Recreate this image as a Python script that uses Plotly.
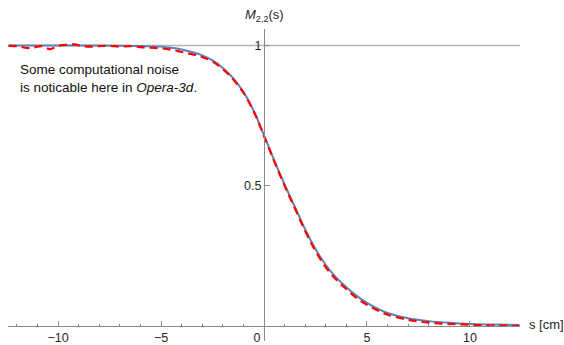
import plotly.graph_objects as go

W, H = 564, 345

# ---- data ----
s_opt = [-12.4, -10, -8, -7, -6, -5, -4.5, -4, -3.5, -3, -2.5, -2, -1.5, -1, -0.5,
         0, 0.5, 1, 1.5, 2, 2.5, 3, 3.5, 4, 4.5, 5, 5.5, 6, 7, 8, 9, 10, 11, 12.4]
m_opt = [1.0, 1.0, 1.0, 0.999, 0.998, 0.996, 0.992, 0.986, 0.977, 0.965, 0.947, 0.92,
         0.884, 0.835, 0.768, 0.68, 0.59, 0.505, 0.425, 0.345, 0.275, 0.218, 0.174,
         0.139, 0.108, 0.083, 0.063, 0.047, 0.028, 0.018, 0.012, 0.008, 0.006, 0.004]

s_opera = [-12.4, -12, -11.5, -11.2, -10.8, -10.4, -10, -9.5, -9.2, -8.8, -8.4, -8,
           -7.5, -7, -6.5, -6, -5.5, -5, -4.5, -4, -3.5, -3, -2.5, -2, -1.5, -1, -0.5,
           0, 0.5, 1, 1.5, 2, 2.5, 3, 3.5, 4, 4.5, 5, 5.5, 6, 7, 8, 9, 10, 11, 12.4]
m_opera = [0.999, 0.998, 0.991, 0.993, 0.998, 0.987, 0.999, 1.003, 1.004, 0.998, 0.996, 0.998,
           0.999, 0.996, 0.998, 0.994, 0.992, 0.99, 0.985, 0.977, 0.969, 0.959, 0.943, 0.916,
           0.88, 0.832, 0.765, 0.678, 0.587, 0.5, 0.42, 0.339, 0.268, 0.21, 0.166,
           0.132, 0.1, 0.076, 0.057, 0.041, 0.023, 0.013, 0.008, 0.005, 0.003, 0.001]

x_tickvals = [-10, -5, 0, 5, 10]
x_ticktext = ["\u221210", "\u22125", "0\u2007\u2007", "5", "10"]
y_tickvals = [0.5, 1]
y_ticktext = ["0.5", "1"]

AXIS = "#8a8a8a"
TXT = "#262626"
FONT = "Liberation Sans, Arial, sans-serif"

fig = go.Figure()
fig.add_trace(go.Scatter(x=s_opt, y=m_opt, mode="lines",
                         line=dict(color="#5E81B5", width=2, shape="spline", smoothing=1),
                         showlegend=False, hoverinfo="skip"))
fig.add_trace(go.Scatter(x=s_opera, y=m_opera, mode="lines",
                         line=dict(color="#FF0000", width=2.2, dash="8px,5px",
                                   shape="spline", smoothing=1),
                         showlegend=False, hoverinfo="skip"))

x_lo, x_hi = -12.43, 12.43
y_lo, y_hi = -0.0528, 1.06

fig.update_layout(
    width=W, height=H, autosize=False,
    margin=dict(l=0, r=0, t=0, b=0, pad=0),
    paper_bgcolor="white", plot_bgcolor="white",
    font=dict(family=FONT, size=12.5, color=TXT),
    xaxis=dict(domain=[8 / W, 520 / W], range=[x_lo, x_hi], anchor="free",
               position=15 / H, showline=True, linecolor=AXIS, linewidth=1,
               showgrid=False, zeroline=False, ticks="inside", ticklen=5,
               tickwidth=1, tickcolor=AXIS, tickvals=x_tickvals, ticktext=x_ticktext,
               tickfont=dict(size=12.5, color=TXT),
               minor=dict(dtick=1, tick0=0, ticks="inside", ticklen=2.5,
                          tickcolor=AXIS, tickwidth=1, showgrid=False)),
    yaxis=dict(domain=[0, (H - 29) / H], range=[y_lo, y_hi], anchor="free",
               position=264 / W, showline=True, linecolor=AXIS, linewidth=1,
               showgrid=False, zeroline=False, ticks="inside", ticklen=5,
               tickwidth=1, tickcolor=AXIS, tickvals=y_tickvals, ticktext=y_ticktext,
               tickfont=dict(size=12.5, color=TXT)),
    shapes=[dict(type="line", xref="x", yref="y", x0=x_lo, x1=x_hi, y0=1, y1=1,
                 line=dict(color="#b5b5b5", width=1.5), layer="below")],
    annotations=[
        dict(text="<i>M</i><sub>2,2</sub>(s)", xref="paper", yref="paper",
             x=264 / W, y=(H - 16) / H, xanchor="center", yanchor="middle",
             showarrow=False, font=dict(size=13, color=TXT)),
        dict(text="s [cm]", xref="paper", yref="paper",
             x=527 / W, y=(H - 328) / H, xanchor="left", yanchor="middle",
             showarrow=False, font=dict(size=13, color=TXT)),
        dict(text="Some computational noise<br>is noticable here in <i>Opera-3d</i>.",
             xref="paper", yref="paper", x=18 / W, y=(H - 61) / H,
             xanchor="left", yanchor="top", align="left",
             showarrow=False, font=dict(size=13.5, color="#111111")),
    ],
)

fig.write_html(
    "out.html",
    config={"displayModeBar": False, "staticPlot": True},
    post_script="document.body.style.margin='0';document.body.style.padding='0';"
                "document.documentElement.style.overflow='hidden';",
)
